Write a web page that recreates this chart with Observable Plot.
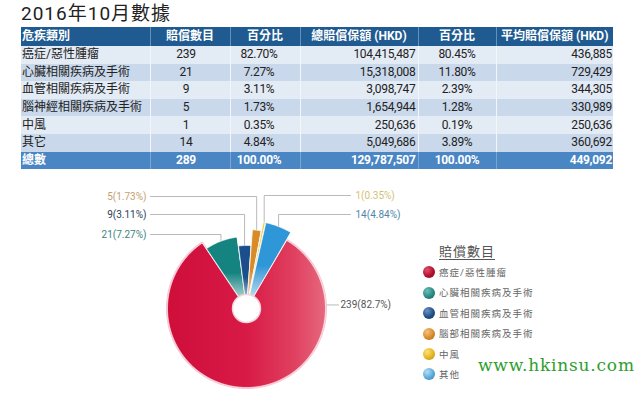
<!DOCTYPE html>
<html><head><meta charset="utf-8">
<script src="https://cdn.jsdelivr.net/npm/d3@7"></script>
<script src="https://cdn.jsdelivr.net/npm/@observablehq/plot@0.6"></script>
<style>
body{margin:0;background:#fff;width:640px;height:396px;overflow:hidden;position:relative;font-family:Roboto,"Noto Sans CJK TC",sans-serif;}
#title{position:absolute;left:21px;top:4px;font-size:19px;line-height:19px;color:#222;letter-spacing:1px;}
table{position:absolute;left:21px;top:27px;border-collapse:collapse;table-layout:fixed;width:592px;font-size:12px;color:#222;}
td,th{padding:0 2px;white-space:nowrap;overflow:hidden;border-left:1px solid #f2f6fa;}
td:first-child,th:first-child{border-left:none;}
tr.h th{background:#1f5b91;color:#fff;font-weight:bold;height:19px;line-height:19px;border-left:1px solid #6390bd;}
tr.h th:first-child{border-left:none;}
tr.b td{height:17.6px;line-height:17px;}
tr.b:nth-child(even) td{background:#e3ebf5;}
tr.b:nth-child(odd) td{background:#c9d8ea;}
tr.t td{background:#4a86c4;color:#fff;font-weight:bold;height:17px;line-height:17px;border-left:1px solid #7aa6d3;}
tr.t td:first-child{border-left:none;}
.num{letter-spacing:-0.3px;}
#plot{position:absolute;left:0;top:180px;}
#legtitle{position:absolute;left:439px;top:243px;font-size:13px;line-height:18px;color:#555;text-decoration:underline;text-underline-offset:3px;letter-spacing:1px;}
.li{position:absolute;left:423px;height:14px;line-height:14px;font-size:9.5px;color:#666;letter-spacing:1px;white-space:nowrap;}
.li span.d{display:inline-block;width:12px;height:12px;border-radius:50%;vertical-align:middle;margin-right:4px;position:relative;top:-1px;}
#wm{position:absolute;left:478px;top:355px;font-family:"DejaVu Serif","Liberation Serif",serif;font-size:17px;letter-spacing:0.8px;color:#2e9e2e;}
</style>
</head><body>
<div id="title"></div>
<table id="tbl"></table>
<div id="legtitle"></div>
<div id="legend"></div>
<div id="wm"></div>
<div id="plot"></div>
<script>
// ---- data ----
const titleText = "2016年10月數據";
const headers = ["危疾類別","賠償數目","百分比","總賠償保額 (HKD)","百分比","平均賠償保額 (HKD)"];
const categories = ["癌症/惡性腫瘤","心臟相關疾病及手術","血管相關疾病及手術","腦神經相關疾病及手術","中風","其它"];
const claimCounts = [239,21,9,5,1,14];
const countShares = [82.70,7.27,3.11,1.73,0.35,4.84];
const claimAmounts = [104415487,15318008,3098747,1654944,250636,5049686];
const amountShares = [80.45,11.80,2.39,1.28,0.19,3.89];
const avgAmounts = [436885,729429,344305,330989,250636,360692];
const totalLabel = "總數";
const totalCount = 289;
const totalCountShare = 100.00;
const totalAmount = 129787507;
const totalAmountShare = 100.00;
const totalAvg = 449092;
const legendTitle = "賠償數目";
const legendLabels = ["癌症/惡性腫瘤","心臟相關疾病及手術","血管相關疾病及手術","腦部相關疾病及手術","中風","其他"];
const pieLabels = ["239(82.7%)","21(7.27%)","9(3.11%)","5(1.73%)","1(0.35%)","14(4.84%)"];
const watermark = "www.hkinsu.com";

// ---- title & table ----
document.getElementById("title").textContent = titleText;
const fmt = d3.format(",");
const pct = v => v.toFixed(2) + "%";
const aligns = [
  "text-align:left;padding-left:1px",
  "text-align:center;padding-right:10px",
  "text-align:center;padding-right:14px",
  "text-align:right;padding-right:2px",
  "text-align:center",
  "text-align:right;padding-right:1px"];
const widths = [129,80,70,118,78,117];
let html = "<colgroup>" + widths.map(w => `<col style="width:${w}px">`).join("") + "</colgroup>";
html += `<tr class="h">` + headers.map((h,j) => `<th style="${j===0?"text-align:left;padding-left:1px":"text-align:center"}">${h}</th>`).join("") + "</tr>";
categories.forEach((c,i) => {
  const cells = [c, claimCounts[i], pct(countShares[i]), fmt(claimAmounts[i]), pct(amountShares[i]), fmt(avgAmounts[i])];
  html += `<tr class="b">` + cells.map((v,j) => `<td class="${j?"num":""}" style="${aligns[j]}">${v}</td>`).join("") + "</tr>";
});
const tot = [totalLabel, totalCount, pct(totalCountShare), fmt(totalAmount), pct(totalAmountShare), fmt(totalAvg)];
html += `<tr class="t">` + tot.map((v,j) => `<td class="${j?"num":""}" style="${aligns[j]}">${v}</td>`).join("") + "</tr>";
document.getElementById("tbl").innerHTML = html;

// ---- legend ----
const legendDot = [
  ["#e0506a","#b3102f","#7a0a22"],
  ["#6cc0b8","#2a8983","#175c58"],
  ["#6d93c4","#21508a","#12335c"],
  ["#f4c27e","#d98a2c","#a0611a"],
  ["#fbe27c","#e6b51e","#b08510"],
  ["#b5def5","#5aa9da","#2e77a8"]];
document.getElementById("legtitle").textContent = legendTitle;
document.getElementById("legend").innerHTML = legendLabels.map((l,i) =>
  `<div class="li" style="top:${266 + i*20.4}px"><span class="d" style="background:radial-gradient(circle at 35% 32%, ${legendDot[i][0]}, ${legendDot[i][1]} 55%, ${legendDot[i][2]})"></span>${l}</div>`).join("");
document.getElementById("wm").textContent = watermark;

// ---- pie ----
const cx = 246, cy = 308;
const rad = Math.PI / 180;
const outerR = [79,72,63,79,88,88];
const order = [1,2,3,4,5,0];
const arcs = d3.pie().sort(null).value(i => claimCounts[i])
  .startAngle(-34*rad).endAngle(326*rad).padAngle(0.5*rad)(order);
const slicePts = [];
const arcByKey = {};
for (const a of arcs) {
  const i = a.data, r = outerR[i];
  arcByKey[i] = a;
  const a0 = a.startAngle + a.padAngle/2, a1 = a.endAngle - a.padAngle/2;
  slicePts.push({k:i, x:cx, y:cy});
  const n = Math.max(2, Math.ceil((a1 - a0) / (0.5*rad)));
  for (let t = 0; t <= n; t++) {
    const ang = a0 + (a1 - a0) * t / n;
    slicePts.push({k:i, x:cx + r*Math.sin(ang), y:cy - r*Math.cos(ang)});
  }
}
// labels & leader lines
const slot = {1:{side:-1,y:234},2:{side:-1,y:214},3:{side:-1,y:196},4:{side:1,y:195},5:{side:1,y:214}};
const labelColor = ["#555","#3b8580","#2b3d57","#c6a070","#d5bf78","#4e87ab"];
const leaders = [], labels = [];
for (const k of [1,2,3,4,5]) {
  const a = arcByKey[k], mid = (a.startAngle + a.endAngle)/2, r = outerR[k];
  const ax = cx + r*Math.sin(mid), ay = cy - r*Math.cos(mid);
  const s = slot[k];
  const ex = s.side < 0 ? 150 : 350;
  leaders.push({k, x:ex, y:s.y}, {k, x:ax, y:s.y}, {k, x:ax, y:ay});
  labels.push({k, x: s.side < 0 ? 146 : 355, y:s.y, t:pieLabels[k], anchor: s.side < 0 ? "end" : "start"});
}
{
  const ang = 87*rad, r = 68;
  const ax = cx + r*Math.sin(ang), ay = cy - r*Math.cos(ang);
  leaders.push({k:0, x:ax, y:ay}, {k:0, x:338, y:ay});
  labels.push({k:0, x:340, y:ay, t:pieLabels[0], anchor:"start"});
}

const sliceMarks = [];
sliceMarks.push(Plot.line(slicePts.filter(p => p.k === 0), {x:"x", y:"y", fill:"#f8d3dc", stroke:"#f6c6d2", strokeWidth:3, curve:"linear-closed"}));
for (const k of [0,1,2,3,4,5]) {
  sliceMarks.push(Plot.line(slicePts.filter(p => p.k === k), {x:"x", y:"y", fill:`url(#s${k})`, stroke:"#fff", strokeWidth:0.7, curve:"linear-closed"}));
}

const svg = Plot.plot({
  width: 640, height: 216, margin: 0,
  x: {domain: [0, 640], range: [0, 640], axis: null},
  y: {domain: [180, 396], range: [0, 216], axis: null},
  style: {background: "transparent", fontFamily: "Roboto, 'Noto Sans CJK TC', sans-serif"},
  marks: [
    Plot.line(leaders, {x:"x", y:"y", z:"k", stroke:"#a8a8a8", strokeWidth:0.8}),
    ...sliceMarks,
    Plot.dot([{x:cx, y:cy}], {x:"x", y:"y", r:14, fill:"#fff", stroke:"#f4d3db", strokeWidth:1.5}),
    Plot.text(labels.filter(d => d.anchor === "end"), {x:"x", y:"y", text:"t", textAnchor:"end", fontSize:10, fill: d => labelColor[d.k]}),
    Plot.text(labels.filter(d => d.anchor === "start"), {x:"x", y:"y", text:"t", textAnchor:"start", fontSize:10, fill: d => labelColor[d.k]})
  ],
  color: {type: "identity"}
});
const defs = d3.select(svg).insert("defs", ":first-child");
const red = defs.append("linearGradient").attr("id","s0").attr("x1",0).attr("x2",1).attr("y1",0).attr("y2",0);
[[0,"#cf0e3a"],[0.5,"#d81a46"],[0.8,"#e0405f"],[1,"#e6687e"]].forEach(([o,c]) => red.append("stop").attr("offset",o).attr("stop-color",c));
const smallCols = {1:"#158480",2:"#1a4f8c",3:"#d98b27",4:"#f0cc55",5:"#2f96d8"};
for (const k of [1,2,3,4,5]) {
  const g = defs.append("linearGradient").attr("id","s"+k).attr("x1",0).attr("x2",0).attr("y1",0).attr("y2",1);
  [[0,smallCols[k],1],[0.5,smallCols[k],1],[1,"#eef4f7",1]].forEach(([o,c,op]) => g.append("stop").attr("offset",o).attr("stop-color",c).attr("stop-opacity",op));
}
document.getElementById("plot").appendChild(svg);
</script>
</body></html>
